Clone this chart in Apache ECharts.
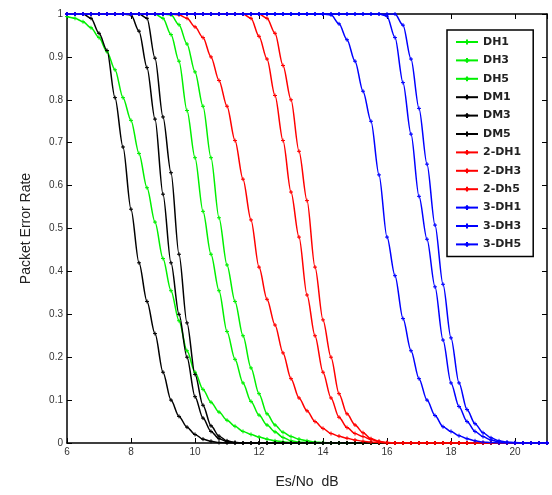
<!DOCTYPE html>
<html>
<head>
<meta charset="utf-8">
<script src="https://cdn.jsdelivr.net/npm/echarts@6/dist/echarts.min.js"></script>
<style>
  html, body { margin: 0; padding: 0; background: #fff; }
  #chart-container { width: 552px; height: 495px; }
</style>
</head>
<body>
<div id="chart-container"></div>
<script>
// Es/No grid, dB (0.25 dB step)
var esno = [
  6, 6.25, 6.5, 6.75, 7, 7.25, 7.5, 7.75,
  8, 8.25, 8.5, 8.75, 9, 9.25, 9.5, 9.75,
  10, 10.25, 10.5, 10.75, 11, 11.25, 11.5, 11.75,
  12, 12.25, 12.5, 12.75, 13, 13.25, 13.5, 13.75,
  14, 14.25, 14.5, 14.75, 15, 15.25, 15.5, 15.75,
  16, 16.25, 16.5, 16.75, 17, 17.25, 17.5, 17.75,
  18, 18.25, 18.5, 18.75, 19, 19.25, 19.5, 19.75,
  20, 20.25, 20.5, 20.75, 21
];

var dh1 = [
  0.994, 0.99, 0.982, 0.968, 0.945, 0.912, 0.87, 0.805,
  0.752, 0.675, 0.595, 0.515, 0.43, 0.355, 0.285, 0.215,
  0.165, 0.125, 0.095, 0.072, 0.053, 0.039, 0.027, 0.02,
  0.014, 0.009, 0.005, 0.003, 0.001, 0, 0, 0,
  0, 0, 0, 0, 0, 0, 0, 0,
  0, 0, 0, 0, 0, 0, 0, 0,
  0, 0, 0, 0, 0, 0, 0, 0,
  0, 0, 0, 0, 0
];
var dh3 = [
  1, 1, 1, 1, 1, 1, 1, 1,
  1, 1, 1, 1, 0.99, 0.952, 0.89, 0.775,
  0.665, 0.54, 0.44, 0.355, 0.26, 0.195, 0.14, 0.097,
  0.065, 0.042, 0.026, 0.013, 0.005, 0.002, 0.001, 0,
  0, 0, 0, 0, 0, 0, 0, 0,
  0, 0, 0, 0, 0, 0, 0, 0,
  0, 0, 0, 0, 0, 0, 0, 0,
  0, 0, 0, 0, 0
];
var dh5 = [
  1, 1, 1, 1, 1, 1, 1, 1,
  1, 1, 1, 1, 1, 0.998, 0.975, 0.93,
  0.865, 0.785, 0.665, 0.525, 0.415, 0.33, 0.25, 0.175,
  0.115, 0.068, 0.042, 0.025, 0.015, 0.009, 0.005, 0.002,
  0.001, 0, 0, 0, 0, 0, 0, 0,
  0, 0, 0, 0, 0, 0, 0, 0,
  0, 0, 0, 0, 0, 0, 0, 0,
  0, 0, 0, 0, 0
];
var dm1 = [
  1, 1, 1, 0.99, 0.955, 0.915, 0.805, 0.69,
  0.545, 0.42, 0.33, 0.255, 0.165, 0.1, 0.062, 0.037,
  0.02, 0.009, 0.004, 0.001, 0, 0, 0, 0,
  0, 0, 0, 0, 0, 0, 0, 0,
  0, 0, 0, 0, 0, 0, 0, 0,
  0, 0, 0, 0, 0, 0, 0, 0,
  0, 0, 0, 0, 0, 0, 0, 0,
  0, 0, 0, 0, 0
];
var dm3 = [
  1, 1, 1, 1, 1, 1, 1, 1,
  0.998, 0.96, 0.875, 0.755, 0.58, 0.42, 0.3, 0.2,
  0.108, 0.058, 0.027, 0.01, 0.003, 0.001, 0, 0,
  0, 0, 0, 0, 0, 0, 0, 0,
  0, 0, 0, 0, 0, 0, 0, 0,
  0, 0, 0, 0, 0, 0, 0, 0,
  0, 0, 0, 0, 0, 0, 0, 0,
  0, 0, 0, 0, 0
];
var dm5 = [
  1, 1, 1, 1, 1, 1, 1, 1,
  1, 1, 0.99, 0.897, 0.76, 0.63, 0.44, 0.28,
  0.16, 0.088, 0.04, 0.016, 0.005, 0.001, 0, 0,
  0, 0, 0, 0, 0, 0, 0, 0,
  0, 0, 0, 0, 0, 0, 0, 0,
  0, 0, 0, 0, 0, 0, 0, 0,
  0, 0, 0, 0, 0, 0, 0, 0,
  0, 0, 0, 0, 0
];
var dh1x2 = [
  1, 1, 1, 1, 1, 1, 1, 1,
  1, 1, 1, 1, 1, 1, 0.998, 0.99,
  0.97, 0.945, 0.9, 0.845, 0.785, 0.705, 0.615, 0.52,
  0.41, 0.335, 0.275, 0.21, 0.15, 0.105, 0.075, 0.05,
  0.034, 0.022, 0.016, 0.011, 0.007, 0.004, 0.002, 0.001,
  0, 0, 0, 0, 0, 0, 0, 0,
  0, 0, 0, 0, 0, 0, 0, 0,
  0, 0, 0, 0, 0
];
var dh3x2 = [
  1, 1, 1, 1, 1, 1, 1, 1,
  1, 1, 1, 1, 1, 1, 1, 1,
  1, 1, 1, 1, 1, 1, 1, 0.99,
  0.948, 0.895, 0.81, 0.705, 0.585, 0.48, 0.345, 0.25,
  0.165, 0.105, 0.06, 0.036, 0.022, 0.015, 0.008, 0.003,
  0.001, 0, 0, 0, 0, 0, 0, 0,
  0, 0, 0, 0, 0, 0, 0, 0,
  0, 0, 0, 0, 0
];
var dh5x2 = [
  1, 1, 1, 1, 1, 1, 1, 1,
  1, 1, 1, 1, 1, 1, 1, 1,
  1, 1, 1, 1, 1, 1, 1, 1,
  1, 0.99, 0.955, 0.88, 0.8, 0.68, 0.565, 0.41,
  0.287, 0.2, 0.115, 0.068, 0.042, 0.024, 0.01, 0.004,
  0.001, 0, 0, 0, 0, 0, 0, 0,
  0, 0, 0, 0, 0, 0, 0, 0,
  0, 0, 0, 0, 0
];
var dh1x3 = [
  1, 1, 1, 1, 1, 1, 1, 1,
  1, 1, 1, 1, 1, 1, 1, 1,
  1, 1, 1, 1, 1, 1, 1, 1,
  1, 1, 1, 1, 1, 1, 1, 1,
  1, 0.998, 0.977, 0.94, 0.89, 0.82, 0.75, 0.625,
  0.48, 0.39, 0.29, 0.215, 0.15, 0.1, 0.064, 0.038,
  0.027, 0.017, 0.01, 0.005, 0.002, 0.001, 0, 0,
  0, 0, 0, 0, 0
];
var dh3x3 = [
  1, 1, 1, 1, 1, 1, 1, 1,
  1, 1, 1, 1, 1, 1, 1, 1,
  1, 1, 1, 1, 1, 1, 1, 1,
  1, 1, 1, 1, 1, 1, 1, 1,
  1, 1, 1, 1, 1, 1, 1, 1,
  0.995, 0.945, 0.84, 0.72, 0.575, 0.475, 0.364, 0.24,
  0.14, 0.085, 0.05, 0.027, 0.015, 0.007, 0.002, 0.001,
  0, 0, 0, 0, 0
];
var dh5x3 = [
  1, 1, 1, 1, 1, 1, 1, 1,
  1, 1, 1, 1, 1, 1, 1, 1,
  1, 1, 1, 1, 1, 1, 1, 1,
  1, 1, 1, 1, 1, 1, 1, 1,
  1, 1, 1, 1, 1, 1, 1, 1,
  1, 1, 0.974, 0.895, 0.78, 0.65, 0.508, 0.37,
  0.245, 0.14, 0.078, 0.045, 0.024, 0.012, 0.005, 0.002,
  0.001, 0, 0, 0, 0
];

var seriesNames = ['DH1', 'DH3', 'DH5', 'DM1', 'DM3', 'DM5',
  '2-DH1', '2-DH3', '2-Dh5', '3-DH1', '3-DH3', '3-DH5'];
var seriesValues = [dh1, dh3, dh5, dm1, dm3, dm5, dh1x2, dh3x2, dh5x2, dh1x3, dh3x3, dh5x3];
var seriesColors = ['#00f000', '#00f000', '#00f000', '#000000', '#000000', '#000000',
  '#ff0000', '#ff0000', '#ff0000', '#0000ff', '#0000ff', '#0000ff'];

var xTicks = [6, 8, 10, 12, 14, 16, 18, 20];

var dom = document.getElementById('chart-container');
var myChart = echarts.init(dom, null, { renderer: 'canvas' });

var plusMark = 'path://M5,0L5,10M0,5L10,5';

var series = seriesValues.map(function (vals, k) {
  var c = seriesColors[k];
  return {
    name: seriesNames[k],
    type: 'line',
    xAxisIndex: 0,
    yAxisIndex: 0,
    data: esno.map(function (x, i) { return [x, vals[i]]; }),
    symbol: plusMark,
    symbolSize: 4,
    showSymbol: true,
    smooth: 0.3,
    smoothMonotone: 'x',
    lineStyle: { color: c, width: 1.5 },
    itemStyle: { color: c, borderColor: c, borderWidth: 1 },
    emphasis: { disabled: true }
  };
});

var labelFont = { color: '#333', fontSize: 10, fontFamily: 'Liberation Sans, Arial, sans-serif' };

var option = {
  animation: false,
  backgroundColor: '#fff',
  grid: { left: 67, right: 5, top: 14, bottom: 52, containLabel: false },
  legend: {
    orient: 'vertical',
    left: 447,
    top: 30,
    data: seriesNames,
    itemWidth: 22,
    itemHeight: 6,
    itemGap: 6.4,
    padding: [6, 12, 6, 8],
    borderColor: '#000',
    borderWidth: 1.5,
    backgroundColor: '#fff',
    textStyle: { color: '#222', fontSize: 11, lineHeight: 12, fontWeight: 'bold', fontFamily: 'DejaVu Sans, sans-serif' }
  },
  xAxis: [
    {
      type: 'value',
      min: 6,
      max: 21,
      interval: 2,
      name: 'Es/No  dB',
      nameLocation: 'middle',
      nameGap: 32,
      nameTextStyle: { color: '#222', fontSize: 14, fontFamily: 'Liberation Sans, Arial, sans-serif' },
      axisLine: { onZero: false, lineStyle: { color: '#000', width: 1.5 } },
      axisTick: { inside: true, length: 5, lineStyle: { color: '#000' } },
      axisLabel: Object.assign({ margin: 4, showMaxLabel: false,
        formatter: function (v) { return xTicks.indexOf(v) >= 0 ? String(v) : ''; } }, labelFont),
      splitLine: { show: false }
    },
    {
      type: 'value',
      position: 'top',
      min: 6,
      max: 21,
      interval: 2,
      axisLine: { onZero: false, lineStyle: { color: '#000', width: 1.5 } },
      axisTick: { inside: true, length: 5, lineStyle: { color: '#000' } },
      axisLabel: { show: false },
      splitLine: { show: false }
    }
  ],
  yAxis: [
    {
      type: 'value',
      min: 0,
      max: 1,
      interval: 0.1,
      name: 'Packet Error Rate',
      nameLocation: 'middle',
      nameGap: 34,
      nameTextStyle: { color: '#222', fontSize: 14, fontFamily: 'Liberation Sans, Arial, sans-serif' },
      axisLine: { onZero: false, lineStyle: { color: '#000', width: 1.5 } },
      axisTick: { inside: true, length: 5, lineStyle: { color: '#000' } },
      axisLabel: Object.assign({ margin: 4,
        formatter: function (v) { return String(Math.round(v * 10) / 10); } }, labelFont),
      splitLine: { show: false }
    },
    {
      type: 'value',
      position: 'right',
      min: 0,
      max: 1,
      interval: 0.1,
      axisLine: { onZero: false, lineStyle: { color: '#000', width: 1.5 } },
      axisTick: { inside: true, length: 5, lineStyle: { color: '#000' } },
      axisLabel: { show: false },
      splitLine: { show: false }
    }
  ],
  series: series
};

if (option && typeof option === 'object') {
  myChart.setOption(option);
}

window.addEventListener('resize', myChart.resize);
</script>
</body>
</html>
